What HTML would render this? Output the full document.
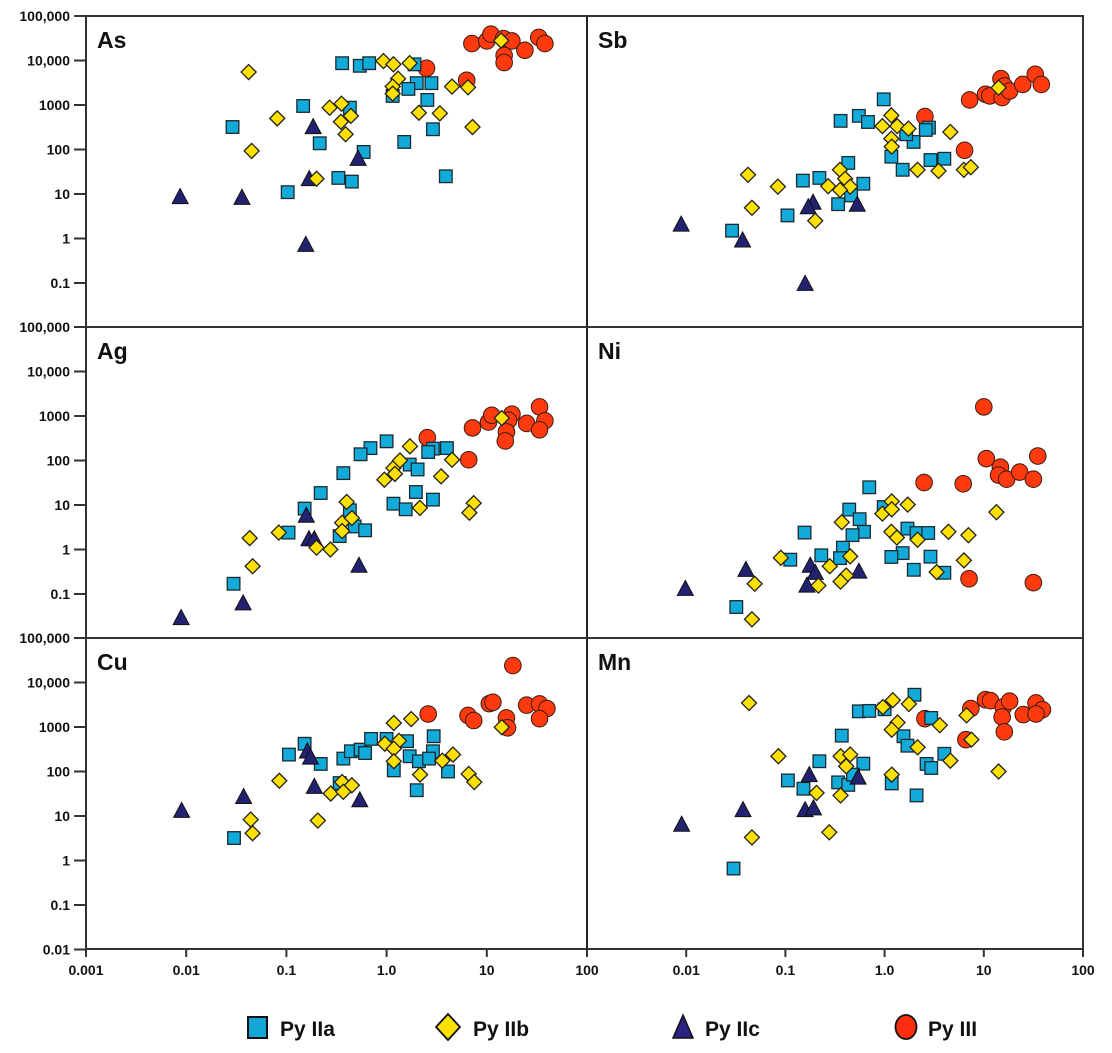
<!DOCTYPE html>
<html><head><meta charset="utf-8">
<style>
html,body{margin:0;padding:0;background:#fff;}
svg{display:block;font-family:"Liberation Sans",Arial,sans-serif;}
</style></head>
<body>
<svg id="chart" width="1112" height="1053" viewBox="0 0 1112 1053" xmlns="http://www.w3.org/2000/svg">
<rect x="0" y="0" width="1112" height="1053" fill="#fff"/>
<g id="marks"></g>
<g id="frame"></g>
<g id="legend">
  <g>
    <rect x="248" y="1017" width="19" height="21" fill="#12a6d6" stroke="#111" stroke-width="2"/>
    <text x="280" y="1036" font-size="21" font-weight="bold" fill="#111">Py IIa</text>
  </g>
  <g>
    <polygon points="448,1014 460,1027 448,1040 436,1027" fill="#ffe000" stroke="#111" stroke-width="1.8"/>
    <text x="473" y="1036" font-size="21" font-weight="bold" fill="#111">Py IIb</text>
  </g>
  <g>
    <polygon points="683,1015 693,1038 673,1038" fill="#2a2380" stroke="#111" stroke-width="1.5"/>
    <text x="705" y="1036" font-size="21" font-weight="bold" fill="#111">Py IIc</text>
  </g>
  <g>
    <ellipse cx="906" cy="1027" rx="10.5" ry="12" fill="#ff2d10" stroke="#111" stroke-width="1.8"/>
    <text x="928" y="1036" font-size="21" font-weight="bold" fill="#111">Py III</text>
  </g>
</g>
</svg>
<script>
// ---------- data (ppm) ----------
const xTickLabels = ["0.001","0.01","0.1","1.0","10","100"];
const yTickLabels = ["100,000","10,000","1000","100","10","1","0.1","0.01"];
const panelNames = ["As","Sb","Ag","Ni","Cu","Mn"];

// As
const as_IIa_x = [0.36,0.54,0.67,1.9,0.147,0.029,0.43,0.215,0.103,0.33,0.45,0.59,2.0,2.8,1.65,1.15,2.55,1.5,2.9,3.9];
const as_IIa_y = [8700,7600,8700,8200,950,320,870,138,11,23,19,88,3100,3100,2300,1600,1300,148,285,25];
const as_IIb_x = [0.042,0.081,0.045,0.2,0.27,0.355,0.44,0.35,0.39,0.93,1.17,1.7,1.3,1.15,1.15,2.1,3.4,4.5,6.5,7.2,13.9];
const as_IIb_y = [5500,500,93,22,870,1070,570,420,220,9700,8200,8700,3900,2600,1800,670,650,2600,2500,320,28000];
const as_IIc_x = [0.0087,0.036,0.156,0.185,0.169,0.52];
const as_IIc_y = [8.3,8,0.7,310,21,60];
const as_III_x = [7.1,10,11,14.7,17.8,14.9,14.9,24,33,38,2.5,6.3];
const as_III_y = [24000,27500,39000,31000,27500,13000,9000,17000,33000,24000,6700,3600];

// Sb
const sb_IIa_x = [0.98,0.36,0.55,0.68,2.8,2.6,1.96,1.65,1.17,1.52,2.9,4.0,0.43,0.61,0.46,0.34,0.22,0.15,0.105,0.029];
const sb_IIa_y = [1340,440,570,415,310,275,148,220,69,35,58,62,50,17,9.3,5.9,23,20,3.3,1.5];
const sb_IIb_x = [0.042,0.084,0.046,0.2,0.27,0.355,0.4,0.45,0.355,1.17,0.95,1.34,1.74,1.17,1.18,2.15,3.5,4.6,6.3,7.4,14.1];
const sb_IIb_y = [27,14.6,4.9,2.5,15,35,22,14.6,12.3,585,335,335,295,175,116,35,33,248,35,40,2450];
const sb_IIc_x = [0.0089,0.037,0.158,0.19,0.17,0.53];
const sb_IIc_y = [2.0,0.88,0.093,6.2,4.9,5.6];
const sb_III_x = [7.2,10.4,11.5,14.9,16.1,15.3,18.2,24.7,33,38,2.55,6.4];
const sb_III_y = [1300,1740,1600,3900,2680,1470,2060,2900,4900,2900,550,96];

// Ag
const ag_IIa_x = [1.0,0.69,0.55,0.37,0.22,0.152,0.43,0.48,0.61,0.34,0.105,0.0297,2.9,2.6,4.0,1.7,2.04,1.96,1.17,1.55,2.9];
const ag_IIa_y = [270,190,138,52,18.6,8.3,7.6,3.3,2.7,2.0,2.4,0.17,185,155,190,81,63,19.6,10.7,8.0,13.2];
const ag_IIb_x = [0.043,0.084,0.046,0.2,0.275,0.40,0.36,0.45,0.36,0.95,1.17,1.36,1.21,1.71,3.5,4.5,2.15,7.4,6.7,14.1];
const ag_IIb_y = [1.8,2.4,0.42,1.1,1.0,11.7,4.0,5.1,2.6,37,68,100,50,208,44,104,8.6,11,6.7,900];
const ag_IIc_x = [0.0089,0.037,0.158,0.168,0.19,0.53];
const ag_IIc_y = [0.028,0.06,5.6,1.66,1.66,0.42];
const ag_III_x = [2.55,6.6,7.2,10.4,11.2,17.8,16.5,15.7,15.3,25,33.6,38,33.6];
const ag_III_y = [325,104,540,730,1040,1100,800,440,275,680,1600,780,490];

// Ni
const ni_IIa_x = [0.70,0.44,0.56,0.62,0.475,0.156,0.38,0.355,0.23,0.112,0.032,0.98,1.7,2.1,2.75,1.52,1.17,2.9,1.97,4.0];
const ni_IIa_y = [25,7.9,4.8,2.5,2.1,2.4,1.1,0.64,0.74,0.59,0.051,9.0,2.95,2.35,2.35,0.83,0.68,0.69,0.35,0.30];
const ni_IIb_x = [0.09,0.049,0.046,0.215,0.28,0.37,0.45,0.41,0.36,1.18,0.95,1.18,1.71,1.17,1.33,2.15,3.35,4.4,7.0,6.3,13.4];
const ni_IIb_y = [0.65,0.17,0.027,0.155,0.42,4.1,0.7,0.26,0.19,12,6.4,8.0,10.2,2.5,1.85,1.66,0.31,2.5,2.1,0.57,6.9];
const ni_IIc_x = [0.0098,0.04,0.178,0.2,0.165,0.55];
const ni_IIc_y = [0.127,0.34,0.42,0.29,0.15,0.31];
const ni_III_x = [10,10.6,14.7,14.1,17,23,35,31.6,2.5,6.2,7.1,31.6];
const ni_III_y = [1600,110,71,47,38,55,126,38,32,30,0.22,0.18];

// Cu
const cu_IIa_x = [0.152,0.106,0.22,0.37,0.44,0.55,0.61,0.7,1.0,1.6,2.95,2.9,1.7,2.1,2.65,1.18,4.1,2.0,0.34,0.03];
const cu_IIa_y = [420,240,148,195,285,310,260,540,540,480,620,285,220,170,195,106,100,38,55,3.2];
const cu_IIb_x = [1.18,1.76,0.96,1.33,1.18,1.18,2.16,3.6,4.6,6.6,7.5,14.1,0.085,0.277,0.36,0.45,0.37,0.206,0.044,0.046];
const cu_IIb_y = [1230,1510,420,490,325,170,85,175,240,88,58,990,62,32,58,49,35,7.9,8.3,4.1];
const cu_IIc_x = [0.009,0.0374,0.162,0.174,0.19,0.54];
const cu_IIc_y = [12.7,26,275,200,44,22];
const cu_III_x = [18.2,2.6,6.5,7.4,10.6,11.5,15.7,16.1,25,33.6,39.8,33.6];
const cu_III_y = [24000,1960,1820,1400,3350,3600,1600,960,3100,3300,2600,1540];

// Mn
const mn_IIa_x = [2.0,0.55,0.7,1.0,0.37,1.55,1.7,2.95,4.0,2.65,2.95,0.61,0.22,0.106,0.152,0.34,0.43,0.48,1.18,2.1,0.03];
const mn_IIa_y = [5300,2250,2300,2500,640,620,380,1600,250,148,120,150,170,63,41,57,50,85,54,29,0.66];
const mn_IIb_x = [0.043,0.085,0.046,0.206,0.277,0.36,0.45,0.41,0.36,0.96,1.21,1.76,1.35,1.18,2.15,3.6,6.7,7.5,4.6,1.18,14.1];
const mn_IIb_y = [3460,220,3.3,33,4.3,220,240,131,29,2800,4000,3300,1260,870,350,1100,1830,520,175,85,100];
const mn_IIc_x = [0.009,0.0374,0.174,0.158,0.192,0.54];
const mn_IIc_y = [6.2,13.2,81,13.2,14.5,71];
const mn_III_x = [2.55,7.4,6.6,10.4,11.7,15.7,18.2,15.3,16.1,25,33.6,39,33.6];
const mn_III_y = [1540,2600,520,4100,3900,2800,3800,1670,780,1900,3470,2450,1960];

const seriesIIa_x = [as_IIa_x,sb_IIa_x,ag_IIa_x,ni_IIa_x,cu_IIa_x,mn_IIa_x];
const seriesIIa_y = [as_IIa_y,sb_IIa_y,ag_IIa_y,ni_IIa_y,cu_IIa_y,mn_IIa_y];
const seriesIIb_x = [as_IIb_x,sb_IIb_x,ag_IIb_x,ni_IIb_x,cu_IIb_x,mn_IIb_x];
const seriesIIb_y = [as_IIb_y,sb_IIb_y,ag_IIb_y,ni_IIb_y,cu_IIb_y,mn_IIb_y];
const seriesIIc_x = [as_IIc_x,sb_IIc_x,ag_IIc_x,ni_IIc_x,cu_IIc_x,mn_IIc_x];
const seriesIIc_y = [as_IIc_y,sb_IIc_y,ag_IIc_y,ni_IIc_y,cu_IIc_y,mn_IIc_y];
const seriesIII_x = [as_III_x,sb_III_x,ag_III_x,ni_III_x,cu_III_x,mn_III_x];
const seriesIII_y = [as_III_y,sb_III_y,ag_III_y,ni_III_y,cu_III_y,mn_III_y];

// ---------- layout ----------
const NS = "http://www.w3.org/2000/svg";
const colLeft = [86, 587];
const colDec = [100.2, 99.2];
const rowTop = [16, 327, 638];
const DEC_Y = 44.5, PH = 311;
function xScale(col, v){ return colLeft[col] + (Math.log10(v) + 3) * colDec[col]; }
function yScale(row, v){ return rowTop[row] + (5 - Math.log10(v)) * DEC_Y; }
function mk(tag, attrs, parent){
  const e = document.createElementNS(NS, tag);
  for (const k in attrs) e.setAttribute(k, attrs[k]);
  parent.appendChild(e);
  return e;
}
const marks = document.getElementById('marks');
const frame = document.getElementById('frame');

for (let p = 0; p < 6; p++){
  const col = p % 2, row = Math.floor(p / 2);
  const g = mk('g', {}, marks);
  
  
  seriesIII_x[p].forEach((xv, i) => {
    const c = mk('circle', {cx: xScale(col, xv), cy: yScale(row, seriesIII_y[p][i]), r: 8.3, fill: '#ff3a0e', stroke: '#3a1a10', 'stroke-width': 1}, g);
    
    
  });
  seriesIIa_x[p].forEach((xv, i) => {
    const cx = xScale(col, xv), cy = yScale(row, seriesIIa_y[p][i]);
    const r = mk('rect', {x: cx - 6.3, y: cy - 6.3, width: 12.6, height: 12.6, fill: '#12aad8', stroke: '#1a2a30', 'stroke-width': 1.3}, g);
    
    
  });
  seriesIIc_x[p].forEach((xv, i) => {
    const cx = xScale(col, xv), cy = yScale(row, seriesIIc_y[p][i]);
    const t = mk('polygon', {points: `${cx},${cy-9} ${cx+8},${cy+6} ${cx-8},${cy+6}`, fill: '#222270', stroke: '#111', 'stroke-width': 1}, g);
    
    
  });
  seriesIIb_x[p].forEach((xv, i) => {
    const cx = xScale(col, xv), cy = yScale(row, seriesIIb_y[p][i]);
    const d = mk('polygon', {points: `${cx},${cy-7.5} ${cx+7.5},${cy} ${cx},${cy+7.5} ${cx-7.5},${cy}`, fill: '#ffe000', stroke: '#222', 'stroke-width': 1.3}, g);
    
    
  });
  const lab = mk('text', {x: colLeft[col] + 11, y: rowTop[row] + 32, 'font-size': 23, 'font-weight': 'bold', fill: '#111'}, frame);
  lab.textContent = panelNames[p];
  
  
}

const L = colLeft[0], R = colLeft[1] + 5 * colDec[1], T = rowTop[0], B = rowTop[2] + PH;
const fr = mk('rect', {x: L, y: T, width: R - L, height: B - T, fill: 'none', stroke: '#333', 'stroke-width': 2}, frame);


const vline = mk('line', {x1: colLeft[1], y1: T, x2: colLeft[1], y2: B, stroke: '#222', 'stroke-width': 2}, frame);


[rowTop[1], rowTop[2]].forEach(y => {
  const h = mk('line', {x1: L, y1: y, x2: R, y2: y, stroke: '#333', 'stroke-width': 2}, frame);
  
  
});

for (let row = 0; row < 3; row++){
  const n = row === 2 ? 8 : 7;
  for (let k = 0; k < n; k++){
    const v = Math.pow(10, 5 - k);
    const y = yScale(row, v);
    const tk = mk('line', {x1: L - 12, y1: y, x2: L, y2: y, stroke: '#333', 'stroke-width': 2}, frame);
    
    
    const t = mk('text', {x: L - 16, y: y + 5, 'font-size': 14, 'font-weight': 'bold', 'text-anchor': 'end', fill: '#111'}, frame);
    t.textContent = yTickLabels[k];
    
    
  }
}
for (let col = 0; col < 2; col++){
  for (let k = 0; k < 6; k++){
    const v = Math.pow(10, k - 3);
    const x = xScale(col, v);
    if (col === 1 && k === 0) continue;
    const tk = mk('line', {x1: x, y1: B, x2: x, y2: B + 8, stroke: '#333', 'stroke-width': 2}, frame);
    
    
  }
  for (let k = 0; k < 6; k++){
    const v = Math.pow(10, k - 3);
    const x = xScale(col, v);
    if (col === 1 && k === 0) continue;
    const t = mk('text', {x: x, y: B + 26, 'font-size': 14, 'font-weight': 'bold', 'text-anchor': 'middle', fill: '#111'}, frame);
    t.textContent = xTickLabels[k];
    
    
  }
}
</script>
</body></html>
